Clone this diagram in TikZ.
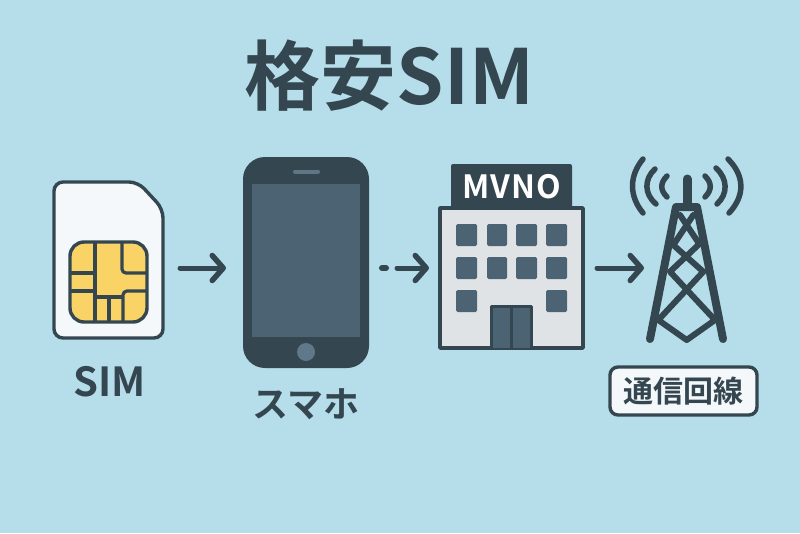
\documentclass[tikz,border=0pt]{standalone}
\usepackage{fontspec}
\setmainfont{Noto Sans CJK JP}[BoldFont={* Bold}]
\usetikzlibrary{arrows.meta,calc}
\definecolor{bgc}{HTML}{B6DEEA}
\definecolor{ink}{HTML}{34464F}
\definecolor{slate}{HTML}{4C6373}
\definecolor{paper}{HTML}{F5F8FA}
\definecolor{chipc}{HTML}{F9D366}
\definecolor{wallc}{HTML}{DFE3E5}
\definecolor{knob}{HTML}{60788A}
\definecolor{spk}{HTML}{5F7684}
\tikzset{
  flow/.style={draw=ink,line width=5pt,line cap=round,line join=round,-{Straight Barb[length=11pt,width=25pt,line width=5.5pt,round]}},
  outline/.style={draw=ink,line width=3.4pt,line join=round},
  chipline/.style={draw=ink,line width=3.2pt},
  wave/.style={draw=ink,line width=5.5pt,line cap=round},
  towerline/.style={draw=ink,line width=6pt,line cap=round,line join=round},
  lattice/.style={draw=ink,line width=6pt,line cap=round,line join=round},
  win/.style={fill=slate,rounded corners=1.5pt},
  lab/.style={text=ink,font=\bfseries,inner sep=0pt},
}
\begin{document}
\begin{tikzpicture}[x=1pt,y=-1pt]
\useasboundingbox (0,0) rectangle (800,533);
\fill[bgc] (0,0) rectangle (800,533);
\node[lab,font=\bfseries\fontsize{76}{76}\selectfont] (title) at (389.5,76) {格安SIM};
% SIM card
\draw[outline,fill=paper,rounded corners=9pt] (54,182) -- (138,182) -- (163,209) -- (163,338) -- (54,338) -- cycle;
\draw[outline,fill=chipc,rounded corners=14pt] (70,242) rectangle (147,322);
\draw[chipline] (95,242) -- (95,322) (70,273) -- (95,273) (70,291) -- (95,291) (95,297) -- (123,297) (109,297) -- (109,322);
\draw[chipline,rounded corners=4pt] (122,242) -- (122,273) -- (147,273);
\draw[chipline,rounded corners=4pt] (147,291) -- (123,291) -- (123,322);
\node[lab,font=\bfseries\fontsize{40}{40}\selectfont] (simlabel) at (109.5,382) {SIM};
% Phone
\fill[ink,rounded corners=22pt] (243,157) rectangle (369,368);
\fill[slate] (252,184) rectangle (360,337);
\draw[spk,line width=4pt,line cap=round] (295,171.5) -- (318,171.5);
\fill[knob] (306,352) circle (9);
\node[lab,font=\bfseries\fontsize{36}{36}\selectfont] (phonelabel) at (306,404) {スマホ};
% Building
\fill[ink,rounded corners=2pt] (451,164) rectangle (572,212);
\node[font=\bfseries\fontsize{32}{32}\selectfont,text=white,inner sep=0pt] (mvno) at (512,187) {M\kern1pt V\kern1pt N\kern1pt O};
\draw[outline,fill=wallc] (440,208) rectangle (583,348);
\foreach \x/\w in {456/21,487/20,516/21,546/21}
  \foreach \y/\h in {224/22,257/22}
    \fill[win] (\x,\y) rectangle ++(\w,\h);
\fill[win] (456,290) rectangle ++(21,22);
\fill[win] (546,290) rectangle ++(21,22);
\draw[outline,fill=slate] (491.5,348) -- (491.5,306.5) -- (531.5,306.5) -- (531.5,348);
\draw[ink,line width=3pt] (511.5,306.5) -- (511.5,348);
% Tower
\draw[towerline,line width=9pt] (687,179) -- (687,205);
\draw[towerline,line width=8pt] (650,339) -- (676,207) -- (697,207) -- (723,339);
\draw[lattice] (680,215) -- (699.3,244) -- (670,271.7) -- (715,320) -- (686.7,340) -- (658.3,320) -- (703.3,271.7) -- (673.3,245) -- (693.3,215);
\draw[wave] (643,159) .. controls (629,176) and (629,196) .. (643,213);
\draw[wave] (655,169) .. controls (644,179) and (644,194) .. (656,204);
\draw[wave] (667,176) .. controls (660,183) and (660,190) .. (667,197);
\draw[wave] (728,159) .. controls (745,176) and (745,196) .. (729,213);
\draw[wave] (716,168) .. controls (728,179) and (728,194) .. (717,204);
\draw[wave] (705,176) .. controls (712,183) and (712,190) .. (705,197);
\node[draw=ink,line width=3.4pt,fill=paper,rounded corners=8pt,minimum width=147pt,minimum height=48pt,inner sep=0pt,text=ink,font=\fontsize{30}{30}\selectfont\bfseries] (linebox) at (683.5,391) {通信回線};
% Arrows
\coordinate (a1s) at (180,268); \coordinate (a1e) at (226,268);
\coordinate (a2d) at (382,268); \coordinate (a2f) at (386,268);
\coordinate (a2s) at (397,268); \coordinate (a2e) at (429,268);
\coordinate (a3s) at (597,268); \coordinate (a3e) at (644,268);
\draw[flow] (a1s) -- (a1e);
\draw[draw=ink,line width=6pt,line cap=round] (a2d) -- (a2f);
\draw[flow] (a2s) -- (a2e);
\draw[flow] (a3s) -- (a3e);
\end{tikzpicture}
\end{document}
